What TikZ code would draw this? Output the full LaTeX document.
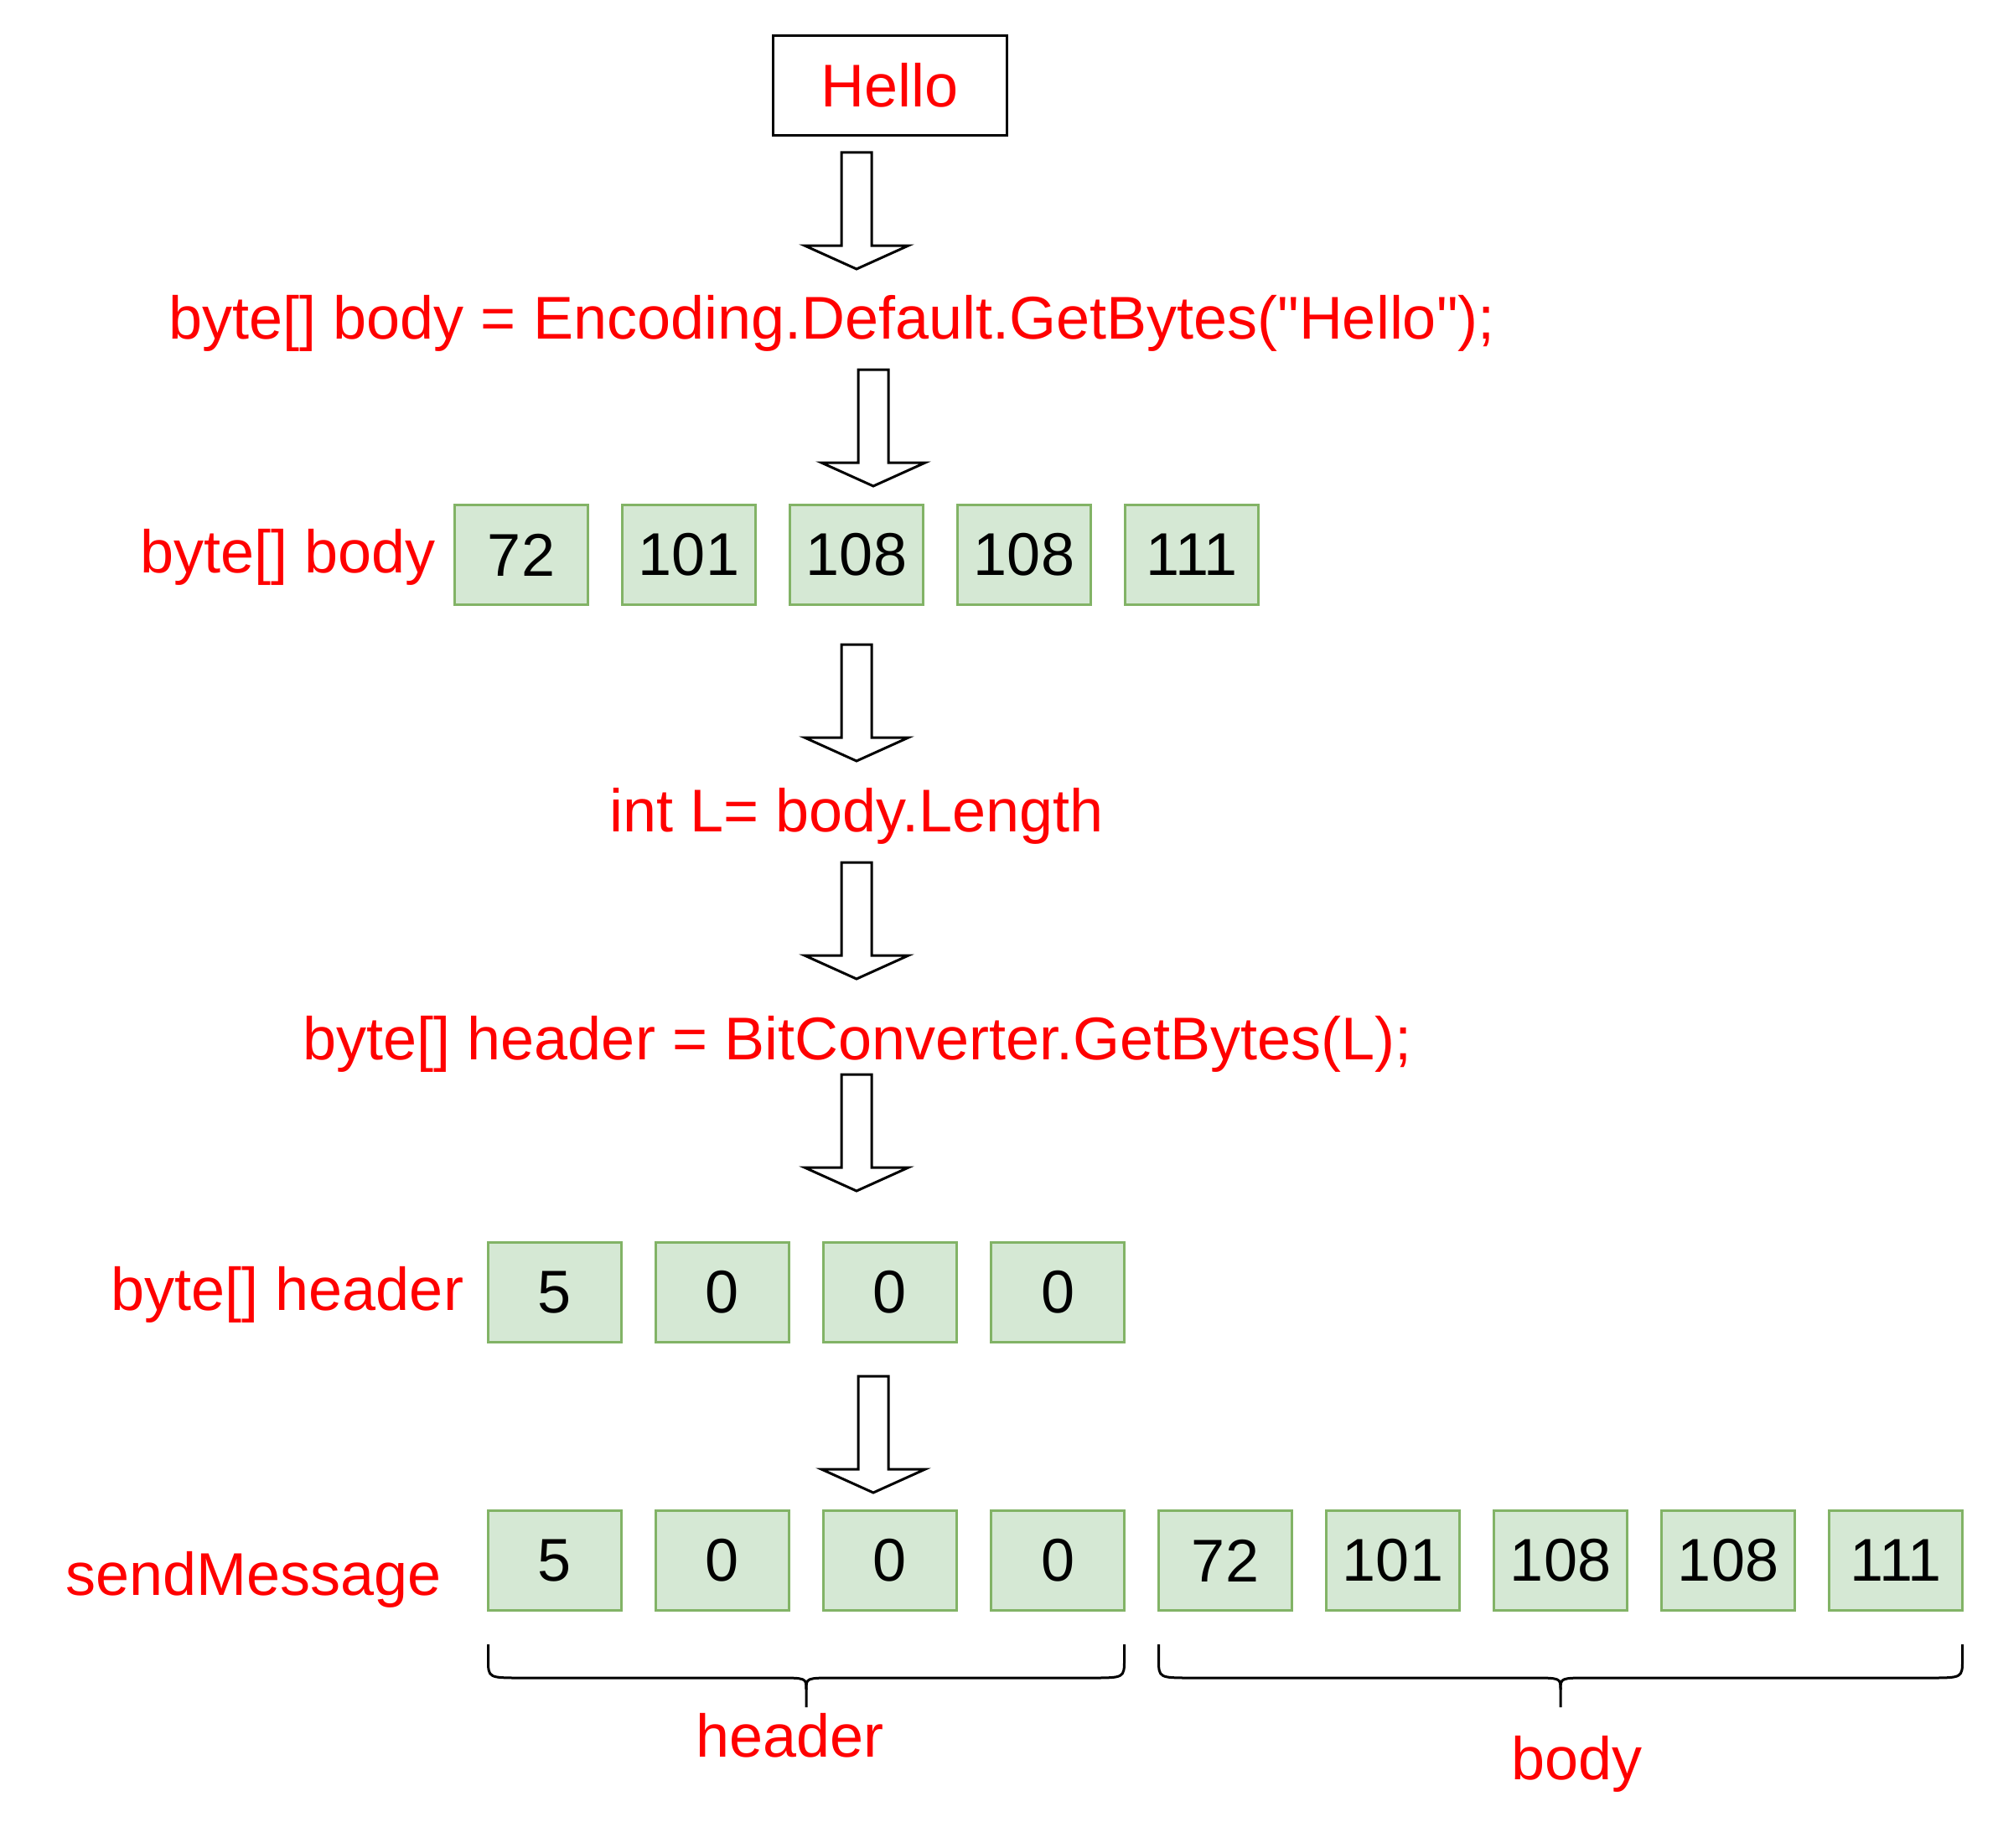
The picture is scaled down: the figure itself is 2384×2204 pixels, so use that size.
\documentclass[tikz,border=0pt]{standalone}
\usepackage{fontspec}
\setmainfont{Liberation Sans}[Ligatures=TeXOff]
\definecolor{cellfill}{HTML}{D5E8D4}
\definecolor{celldraw}{HTML}{82B366}
\definecolor{txtred}{HTML}{FF0000}
\newcommand\blockarrow[3]{%
  \draw[blockarrowstyle] (#1-18,#2) -- (#1+18,#2) -- (#1+18,#3-28) -- (#1+62,#3-28) -- (#1,#3) -- (#1-62,#3-28) -- (#1-18,#3-28) -- cycle;}
\newcommand\curlybrace[3]{% left, right, mid
  \draw[bracestyle] (#1,1962) -- (#1,1980) .. controls (#1,2002) .. (#1+40,2002) -- (#3-35,2002) .. controls (#3,2002) .. (#3,2016) -- (#3,2037);
  \draw[bracestyle] (#2,1962) -- (#2,1980) .. controls (#2,2002) .. (#2-40,2002) -- (#3+35,2002) .. controls (#3,2002) .. (#3,2016);}
\begin{document}
\begin{tikzpicture}[x=0.25pt,y=-0.25pt,
  bigfont/.style={font=\fontsize{18}{21.6}\selectfont},
  lbl/.style={bigfont,text=txtred,inner sep=0pt,anchor=base west},
  cell/.style={bigfont,draw=celldraw,fill=cellfill,line width=0.75pt,minimum width=39.75pt,minimum height=29.75pt,inner sep=0pt,text=black},
  hellobox/.style={bigfont,draw=black,line width=0.8pt,minimum width=69.75pt,minimum height=29.75pt,inner sep=0pt,text=txtred},
  blockarrowstyle/.style={draw=black,fill=white,line width=0.75pt,line join=miter},
  bracestyle/.style={draw=black,line width=0.75pt}]
\useasboundingbox[fill=white] (0,0) rectangle (2384,2204);

\node[hellobox] (hello) at (1062,102) {Hello};
\blockarrow{1022}{182}{321}
\node[lbl] (code1) at (201,404) {byte[] body = Encoding.Default.GetBytes("Hello");};
\blockarrow{1042}{441}{580}

\node[lbl] (bodylbl) at (167,683) {byte[] body};
\node[cell] (b1) at (622,662) {72};
\node[cell] (b2) at (822,662) {101};
\node[cell] (b3) at (1022,662) {108};
\node[cell] (b4) at (1222,662) {108};
\node[cell] (b5) at (1422,662) {111};

\blockarrow{1022}{769}{908}
\node[lbl] (code2) at (727,992) {int L= body.Length};
\blockarrow{1022}{1029}{1168}
\node[lbl] (code3) at (361,1264) {byte[] header = BitConverter.GetBytes(L);};
\blockarrow{1022}{1282}{1421}

\node[lbl] (headerlbl) at (132,1563) {byte[] header};
\node[cell] (h1) at (662,1542) {5};
\node[cell] (h2) at (862,1542) {0};
\node[cell] (h3) at (1062,1542) {0};
\node[cell] (h4) at (1262,1542) {0};

\blockarrow{1042}{1642}{1781}

\node[lbl] (sendlbl) at (78,1903) {sendMessage};
\node[cell] (s1) at (662,1862) {5};
\node[cell] (s2) at (862,1862) {0};
\node[cell] (s3) at (1062,1862) {0};
\node[cell] (s4) at (1262,1862) {0};
\node[cell] (s5) at (1462,1862) {72};
\node[cell] (s6) at (1662,1862) {101};
\node[cell] (s7) at (1862,1862) {108};
\node[cell] (s8) at (2062,1862) {108};
\node[cell] (s9) at (2262,1862) {111};

\curlybrace{582.5}{1341.5}{962}
\curlybrace{1382.5}{2341.5}{1862}
\node[lbl] (hdrtxt) at (830,2096) {header};
\node[lbl] (bodytxt) at (1803,2123) {body};
\end{tikzpicture}
\end{document}
